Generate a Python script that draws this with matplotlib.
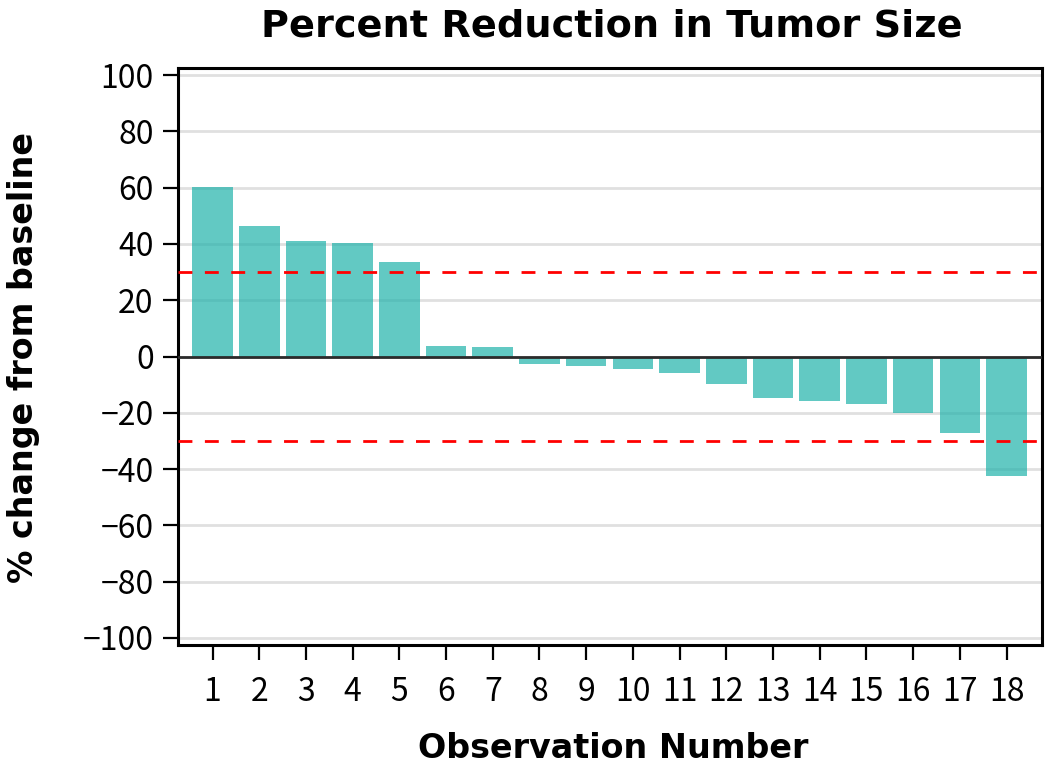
import matplotlib
matplotlib.use("Agg")
import matplotlib.pyplot as plt

plt.rcParams['font.family'] = ['Noto Sans CJK JP', 'DejaVu Sans']

# data
observations = list(range(1, 19))
pct_change = [60.2, 46.3, 41.1, 40.2, 33.6, 3.9, 3.5, -2.8, -3.2, -4.3,
              -6.0, -9.8, -14.6, -15.8, -17.0, -19.9, -27.1, -42.6]
threshold = 30
y_ticks = list(range(-100, 101, 20))

fig = plt.figure(figsize=(10.5, 7.69), dpi=100)
ax = fig.add_axes([0.1695, 0.1612, 0.8229, 0.7504])

for y in y_ticks:
    ax.axhline(y, color='#e0e0e0', linewidth=2, zorder=0)

ax.bar(observations, pct_change, width=0.87, color='#20b2aa', alpha=0.7,
       zorder=2)
ax.axhline(0, color='#2b2b2b', linewidth=2, zorder=3)
for t in (threshold, -threshold):
    ax.axhline(t, color='#ff0000', linewidth=2, linestyle=(0, (5, 4.5)), zorder=4)

ax.set_xlim(0.26, 18.76)
ax.set_ylim(-102.5, 102.5)
ax.set_xticks(observations)
ax.set_yticks(y_ticks)
ax.tick_params(axis='y', direction='out', length=10.5, width=1.6, labelsize=23, pad=7)
ax.tick_params(axis='x', direction='out', length=10.5, width=1.6, labelsize=23, pad=12)

for s in ax.spines.values():
    s.set_linewidth(2.2)

bold = dict(family='DejaVu Sans', fontweight='bold')
fig.text(0.583, 0.952, 'Percent Reduction in Tumor Size', ha='center', va='baseline',
         fontsize=27.5, **bold)
fig.text(0.584, 0.0143, 'Observation Number', ha='center', va='baseline',
         fontsize=24, **bold)
fig.text(0.0314, 0.535, '% change from baseline', ha='center', va='baseline',
         rotation=90, rotation_mode='anchor', fontsize=24, **bold)

fig.savefig('out.png', dpi=100)
